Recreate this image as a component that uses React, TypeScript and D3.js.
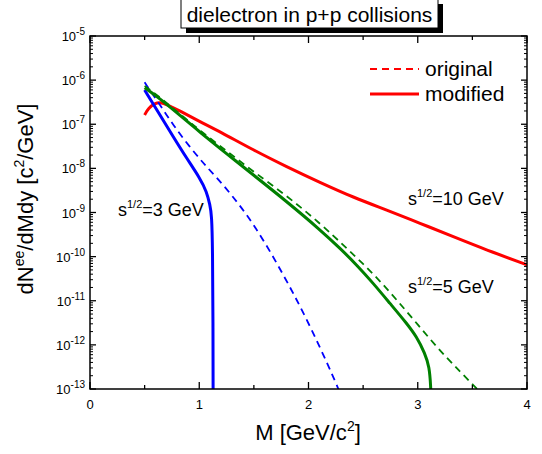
import React from "react";
import * as d3 from "d3";

// ---- data ----
const mRedMod = [0.5, 0.534, 0.595, 0.641, 0.702, 0.824, 1.007, 1.19, 1.495, 1.8, 2.105, 2.41, 2.716, 3.021, 3.325, 3.631, 4.0];
const yRedMod = [1.62e-7, 2.3e-7, 2.99e-7, 3.14e-7, 2.83e-7, 2.0e-7, 1.14e-7, 6.8e-8, 2.6e-8, 1.09e-8, 4.8e-9, 2.2e-9, 1.14e-9, 5.7e-10, 2.83e-10, 1.41e-10, 6.5e-11];

const mBlueMod = [0.5, 0.641, 0.762, 0.885, 1.007, 1.068, 1.098, 1.114, 1.122, 1.126, 1.127];
const yBlueMod = [5.97e-7, 1.62e-7, 5.2e-8, 1.69e-8, 5.96e-9, 2.96e-9, 1.48e-9, 8.8e-10, 1.6e-10, 3.2e-12, 5e-14];

const mBlueOrig = [0.5, 0.641, 0.762, 0.915, 1.068, 1.22, 1.495, 1.769, 1.986, 2.197, 2.29];
const yBlueOrig = [8.9e-7, 2.73e-7, 9.6e-8, 3.0e-8, 1.07e-8, 4.3e-9, 6.0e-10, 4.0e-11, 3.8e-12, 2.8e-13, 8e-14];

const mGreenMod = [0.5, 0.641, 0.824, 1.007, 1.266, 1.495, 1.8, 2.105, 2.288, 2.441, 2.593, 2.746, 2.899, 2.99, 3.066, 3.106, 3.119, 3.123];
const yGreenMod = [6.73e-7, 3.8e-7, 1.58e-7, 6.6e-8, 2.0e-8, 7.1e-9, 1.78e-9, 4.1e-10, 1.55e-10, 6.5e-11, 2.48e-11, 8.7e-12, 3.08e-12, 1.53e-12, 6.4e-13, 3.2e-13, 1.13e-13, 5e-14];

const mGreenOrig = [0.5, 0.641, 0.824, 1.007, 1.266, 1.495, 1.8, 2.105, 2.334, 2.502, 2.654, 2.807, 2.959, 3.112, 3.265, 3.387, 3.524, 3.58];
const yGreenOrig = [7.4e-7, 4.07e-7, 1.7e-7, 7.2e-8, 2.3e-8, 8.5e-9, 2.4e-9, 5.75e-10, 1.68e-10, 6.8e-11, 2.8e-11, 1.05e-11, 3.8e-12, 1.35e-12, 5.1e-13, 2.5e-13, 1.12e-13, 8e-14];

const xTicks = [0, 1, 2, 3, 4];
const xMinorTicks = [0.5, 1.5, 2.5, 3.5];
const yExponents = [-13, -12, -11, -10, -9, -8, -7, -6, -5];

const titleText = "dielectron in p+p collisions";
const legendLabels = ["original", "modified"];

const RED = "#ff0000";
const BLUE = "#0000ff";
const GREEN = "#008000";
const FONT = "'Liberation Sans', Arial, Helvetica, sans-serif";

export default function App() {
  const W = 542, H = 454;
  const L = 90, R = 527, T = 36, B = 389;
  const x = d3.scaleLinear().domain([0, 4]).range([L, R]);
  const y = d3.scaleLog().domain([1e-13, 1e-5]).range([B, T]);

  const line = d3
    .line<[number, number]>()
    .x((d) => x(d[0]))
    .y((d) => y(d[1]))
    .curve(d3.curveBasis);

  const zip = (a: number[], b: number[]) => a.map((v, i) => [v, b[i]] as [number, number]);

  const series = [
    { m: mRedMod, v: yRedMod, c: RED, dash: false },
    { m: mBlueOrig, v: yBlueOrig, c: BLUE, dash: true },
    { m: mGreenOrig, v: yGreenOrig, c: GREEN, dash: true },
    { m: mBlueMod, v: yBlueMod, c: BLUE, dash: false },
    { m: mGreenMod, v: yGreenMod, c: GREEN, dash: false },
  ];

  const minorY: number[] = [];
  for (let e = -13; e < -5; e++) {
    for (let k = 2; k <= 9; k++) minorY.push(k * Math.pow(10, e));
  }

  return (
    <div style={{ position: "absolute", left: 0, top: 0 }}>
      <svg width={W} height={H} style={{ display: "block", fontFamily: FONT }}>
        <rect x={0} y={0} width={W} height={H} fill="#fff" />
        <defs>
          <clipPath id="plotclip">
            <rect x={L} y={T} width={R - L} height={B - T} />
          </clipPath>
        </defs>

        {/* curves */}
        <g clipPath="url(#plotclip)">
          {series.map((s, i) => (
            <path
              key={i}
              d={line(zip(s.m, s.v)) || ""}
              fill="none"
              stroke={s.c}
              strokeWidth={s.dash ? 1.8 : 3}
              strokeDasharray={s.dash ? "7,5" : undefined}
              strokeLinejoin="round"
            />
          ))}
        </g>

        {/* frame */}
        <rect x={L} y={T} width={R - L} height={B - T} fill="none" stroke="#000" strokeWidth={1.5} />

        {/* x ticks */}
        {xTicks.map((t) => (
          <g key={"xt" + t}>
            <line x1={x(t)} x2={x(t)} y1={B} y2={B - 7} stroke="#000" strokeWidth={1.3} />
            <line x1={x(t)} x2={x(t)} y1={T} y2={T + 7} stroke="#000" strokeWidth={1.3} />
            <text x={x(t)} y={409} fontSize={13} textAnchor="middle">
              {t}
            </text>
          </g>
        ))}
        {xMinorTicks.map((t) => (
          <g key={"xm" + t}>
            <line x1={x(t)} x2={x(t)} y1={B} y2={B - 4} stroke="#000" strokeWidth={1.3} />
            <line x1={x(t)} x2={x(t)} y1={T} y2={T + 4} stroke="#000" strokeWidth={1.3} />
          </g>
        ))}

        {/* y ticks */}
        {yExponents.map((e) => {
          const v = Math.pow(10, e);
          return (
            <g key={"yt" + e}>
              <line x1={L} x2={L + 6} y1={y(v)} y2={y(v)} stroke="#000" strokeWidth={1.3} />
              <line x1={R} x2={R - 6} y1={y(v)} y2={y(v)} stroke="#000" strokeWidth={1.3} />
              <text x={85} y={y(v) + 5} fontSize={13} textAnchor="end">
                10
                <tspan dy={-6} fontSize={10}>
                  {String(e)}
                </tspan>
              </text>
            </g>
          );
        })}
        {minorY.map((v, i) => (
          <g key={"ym" + i}>
            <line x1={L} x2={L + 3} y1={y(v)} y2={y(v)} stroke="#000" strokeWidth={1} />
            <line x1={R} x2={R - 3} y1={y(v)} y2={y(v)} stroke="#000" strokeWidth={1} />
          </g>
        ))}

        {/* axis titles */}
        <text x={308} y={440} fontSize={22} textAnchor="middle">
          M [GeV/c
          <tspan dy={-9} fontSize={14}>2</tspan>
          <tspan dy={9}>]</tspan>
        </text>
        <text transform="translate(33,199) rotate(-90)" fontSize={22} textAnchor="middle">
          dN
          <tspan dy={-9} fontSize={14}>ee</tspan>
          <tspan dy={9}>/dMdy [c</tspan>
          <tspan dy={-9} fontSize={14}>2</tspan>
          <tspan dy={9}>/GeV]</tspan>
        </text>

        {/* title box */}
        <rect x={186} y={4} width={257} height={29} fill="#000" />
        <rect x={181} y={-1} width={257} height={29} fill="#fff" stroke="#000" strokeWidth={1} />
        <text x={309.5} y={22} fontSize={21} textAnchor="middle">
          {titleText}
        </text>

        {/* legend */}
        <line x1={370} x2={419} y1={69} y2={69} stroke={RED} strokeWidth={1.8} strokeDasharray="7,5" />
        <text x={425} y={76} fontSize={21}>
          {legendLabels[0]}
        </text>
        <line x1={370} x2={419} y1={94} y2={94} stroke={RED} strokeWidth={3} />
        <text x={425} y={101} fontSize={21}>
          {legendLabels[1]}
        </text>

        {/* energy labels */}
        <text x={118} y={216} fontSize={18}>
          s<tspan dy={-8} fontSize={11}>1/2</tspan>
          <tspan dy={8}>=3 GeV</tspan>
        </text>
        <text x={408} y={205} fontSize={18}>
          s<tspan dy={-8} fontSize={11}>1/2</tspan>
          <tspan dy={8}>=10 GeV</tspan>
        </text>
        <text x={408} y={293} fontSize={18}>
          s<tspan dy={-8} fontSize={11}>1/2</tspan>
          <tspan dy={8}>=5 GeV</tspan>
        </text>
      </svg>
    </div>
  );
}
